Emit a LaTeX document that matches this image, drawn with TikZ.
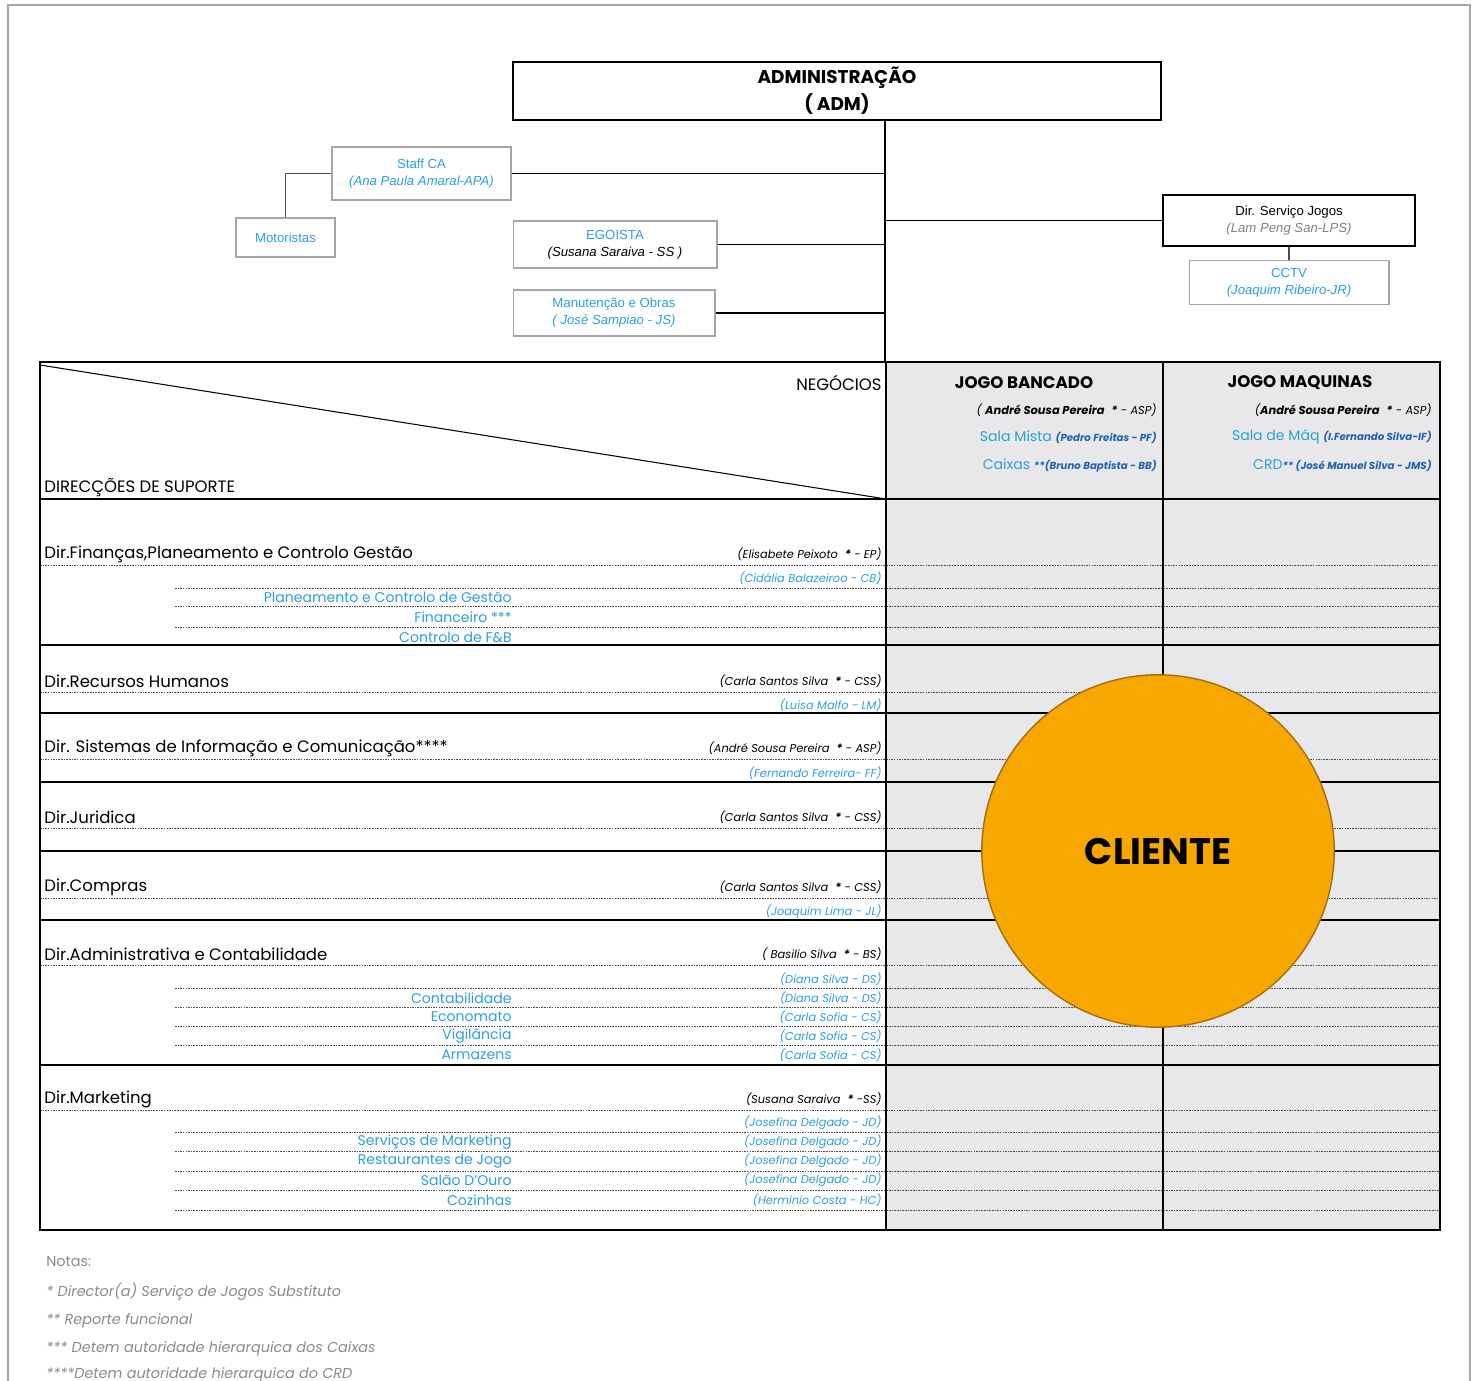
\documentclass[tikz,border=0pt]{standalone}
\usepackage{fontspec}
\setmainfont{Poppins}
\newfontfamily\arialfont{Liberation Sans}
\usetikzlibrary{positioning}
\definecolor{orgblue}{HTML}{2AA0DA}
\definecolor{namblue}{HTML}{2262B0}
\definecolor{notegray}{HTML}{8A8A8A}
\definecolor{colfill}{HTML}{E8E8EA}
\definecolor{clientfill}{HTML}{F6A700}
\definecolor{clientdraw}{HTML}{A86C10}
\newcommand{\hdname}[1]{{\color{namblue}\bfseries\itshape\fontsize{5.8}{6.5}\selectfont #1}}
\newcommand{\subst}{\textbf{*}}

\begin{document}
\begin{tikzpicture}[
    x=0.02cm, y=-0.02cm,
    topbox/.style={draw=gray!70, line width=0.6pt, inner sep=0pt, align=center,
                   font=\arialfont\fontsize{7.5}{9.7}\selectfont},
    headbox/.style={draw=black, line width=1.4pt, inner sep=0pt, align=center},
    branch/.style={line width=1.1pt},
    twig/.style={draw=gray!60!black, line width=0.6pt},
    rowline/.style={line width=1.2pt},
    dotline/.style={gray!60!black, line width=0.55pt, dash pattern=on 0.9pt off 0.6pt},
    hdtext/.style={inner sep=0pt, font=\fontsize{9.4}{11}\selectfont},
    jogohead/.style={inner sep=0pt, font=\bfseries\fontsize{9.5}{11}\selectfont},
    dirtitle/.style={anchor=west, inner sep=0pt, font=\fontsize{9.4}{11}\selectfont},
    dirname/.style={anchor=east, inner sep=0pt, font=\itshape\fontsize{6.5}{7.5}\selectfont},
    subname/.style={dirname, text=orgblue},
    unit/.style={anchor=east, inner sep=0pt, text=orgblue, font=\fontsize{8}{9}\selectfont},
    note/.style={anchor=west, inner sep=0pt, text=notegray, font=\itshape\fontsize{8.2}{9.5}\selectfont}
  ]
  \useasboundingbox (0,0) rectangle (1480,1381);
  \draw[gray!70, line width=0.6pt] (8,1381) |- (1470,5) -- (1470,1381);

  % orgao de administracao e staff
  \node[headbox, minimum width=12.96cm, minimum height=1.16cm,
        font=\bfseries\fontsize{10.5}{15.4}\selectfont] (adm) at (837,91)
        {ADMINISTRAÇÃO\\( ADM)};
  \coordinate (trunktop) at (885,120);
  \coordinate (trunkbot) at (885,362);
  \node[topbox, minimum width=3.58cm, minimum height=1.06cm] (staff) at (421.5,173.5)
        {\textcolor{orgblue}{Staff CA}\\\textcolor{orgblue}{\itshape (Ana Paula Amaral-APA)}};
  \node[topbox, minimum width=1.98cm, minimum height=0.78cm, text=orgblue] (mot) at (285.5,237.5)
        {Motoristas};
  \node[topbox, minimum width=4.08cm, minimum height=0.94cm] (ego) at (615,244.5)
        {\textcolor{orgblue}{EGOISTA}\\{\itshape (Susana Saraiva - SS )}};
  \node[topbox, minimum width=4.04cm, minimum height=0.92cm, text=orgblue] (manut) at (614,313)
        {Manutenção e Obras\\{\itshape ( José Sampiao - JS)}};
  \node[topbox, draw=black, line width=1.4pt, minimum width=5.04cm, minimum height=1.02cm] (jogos)
        at (1289,220.5) {Dir. Serviço Jogos\\\textcolor{gray}{\itshape (Lam Peng San-LPS)}};
  \node[topbox, minimum width=4cm, minimum height=0.88cm, text=orgblue, below=0.26cm of jogos] (cctv)
        {CCTV\\{\itshape (Joaquim Ribeiro-JR)}};

  \draw[branch] (trunktop) -- (trunkbot);
  \draw[branch] (staff.east) -- (staff.east -| trunktop);
  \draw[branch] (ego.east) -- (ego.east -| trunktop);
  \draw[branch] (manut.east) -- (manut.east -| trunktop);
  \draw[branch] (jogos.west -| trunktop) -- (jogos.west);
  \draw[twig] (staff.west) -| (mot.north);
  \draw[twig] (jogos.south -| cctv.north) -- (cctv.north);

  % matriz negocios / direccoes de suporte
  \fill[colfill] (886,362) rectangle (1440,1230);
  \draw[line width=0.6pt] (40,365) -- (886,499);
  \foreach \y in {565,692,759,828,898,965,1110}
    \draw[dotline] (40,\y) -- (1440,\y);
  \foreach \y in {588,606,627,988,1007,1026,1045,1132,1151,1171,1190,1210}
    \draw[dotline] (175,\y) -- (1440,\y);
  \foreach \y in {499,645,713,782,851,920,1065}
    \draw[rowline] (40,\y) -- (1440,\y);
  \draw[rowline] (40,362) rectangle (1440,1230);
  \draw[rowline] (886,362) -- (886,1230);
  \draw[rowline] (1163,362) -- (1163,1230);

  \node[hdtext, anchor=east] (neg) at (882,383) {NEGÓCIOS};
  \node[hdtext, anchor=west] (dirsup) at (44,488) {DIRECÇÕES DE SUPORTE};

  \node[jogohead] (bancado) at (1024,383) {JOGO BANCADO};
  \node[dirname] (bancasp) at (1157,410) {( \textbf{André Sousa Pereira} \ \subst\ - ASP)};
  \node[unit] (salamista) at (1157,437) {Sala Mista \hdname{(Pedro Freitas - PF)}};
  \node[unit] (caixas) at (1157,466) {Caixas \hdname{**(Bruno Baptista - BB)}};
  \node[jogohead] (maquinas) at (1300,383) {JOGO MAQUINAS};
  \node[dirname] (maqasp) at (1432,410) {(\textbf{André Sousa Pereira} \ \subst\ - ASP)};
  \node[unit] (salamaq) at (1432,437) {Sala de Máq \hdname{(I.Fernando Silva-IF)}};
  \node[unit] (crd) at (1432,466) {CRD\hdname{** (José Manuel Silva - JMS)}};

  \node[dirtitle] (fin) at (44,554) {Dir.Finanças,Planeamento e Controlo Gestão};
  \node[dirname] (finep) at (882,554) {(Elisabete Peixoto \ \subst\ - EP)};
  \node[subname] (fincb) at (882,578) {(Cidália Balazeiroo - CB)};
  \node[unit] (finpcg) at (512,597) {Planeamento e Controlo de Gestão};
  \node[unit] (finfin) at (512,617) {Financeiro ***};
  \node[unit] (finfb) at (512,637) {Controlo de F\&B};

  \node[dirtitle] (rh) at (44,681) {Dir.Recursos Humanos};
  \node[dirname] (rhcss) at (882,681) {(Carla Santos Silva \ \subst\ - CSS)};
  \node[subname] (rhlm) at (882,705) {(Luisa Malfo - LM)};

  \node[dirtitle] (si) at (44,748) {Dir. Sistemas de Informação e Comunicação****};
  \node[dirname] (siasp) at (882,748) {(André Sousa Pereira \ \subst\ - ASP)};
  \node[subname] (siff) at (882,773) {(Fernando Ferreira- FF)};

  \node[dirtitle] (jur) at (44,817) {Dir.Juridica};
  \node[dirname] (jurcss) at (882,817) {(Carla Santos Silva \ \subst\ - CSS)};

  \node[dirtitle] (comp) at (44,887) {Dir.Compras};
  \node[dirname] (compcss) at (882,887) {(Carla Santos Silva \ \subst\ - CSS)};
  \node[subname] (compjl) at (882,912) {(Joaquim Lima - JL)};

  \node[dirtitle] (dac) at (44,954) {Dir.Administrativa e Contabilidade};
  \node[dirname] (dacbs) at (882,954) {( Basilio Silva \ \subst\ - BS)};
  \node[subname] (dacds) at (882,979) {(Diana Silva - DS)};
  \node[unit] (cont) at (512,998) {Contabilidade};
  \node[subname] (contds) at (882,998) {(Diana Silva - DS)};
  \node[unit] (econ) at (512,1017) {Economato};
  \node[subname] (econcs) at (882,1017) {(Carla Sofia - CS)};
  \node[unit] (vig) at (512,1036) {Vigilância};
  \node[subname] (vigcs) at (882,1036) {(Carla Sofia - CS)};
  \node[unit] (arm) at (512,1055) {Armazens};
  \node[subname] (armcs) at (882,1055) {(Carla Sofia - CS)};

  \node[dirtitle] (mkt) at (44,1099) {Dir.Marketing};
  \node[dirname] (mktss) at (882,1099) {(Susana Saraiva \ \subst\ -SS)};
  \node[subname] (mktjd) at (882,1123) {(Josefina Delgado - JD)};
  \node[unit] (smkt) at (512,1142) {Serviços de Marketing};
  \node[subname] (smktjd) at (882,1142) {(Josefina Delgado - JD)};
  \node[unit] (rest) at (512,1161) {Restaurantes de Jogo};
  \node[subname] (restjd) at (882,1161) {(Josefina Delgado - JD)};
  \node[unit] (salao) at (512,1180) {Salão D'Ouro};
  \node[subname] (salaojd) at (882,1180) {(Josefina Delgado - JD)};
  \node[unit] (coz) at (512,1200) {Cozinhas};
  \node[subname] (cozhc) at (882,1200) {(Herminio Costa - HC)};

  \node[circle, fill=clientfill, draw=clientdraw, line width=0.8pt, minimum size=7.05cm,
        font=\bfseries\fontsize{21}{24}\selectfont] (cliente) at (1158,851) {CLIENTE};

  % notas
  \node[note, font=\fontsize{8.2}{9.5}\selectfont] (notas) at (46,1262) {Notas:};
  \node[note] (nota1) at (46,1292) {* Director(a) Serviço de Jogos Substituto};
  \node[note] (nota2) at (46,1321) {** Reporte funcional};
  \node[note] (nota3) at (46,1349) {*** Detem autoridade hierarquica dos Caixas};
  \node[note] (nota4) at (46,1375) {****Detem autoridade hierarquica do CRD};
\end{tikzpicture}
\end{document}
